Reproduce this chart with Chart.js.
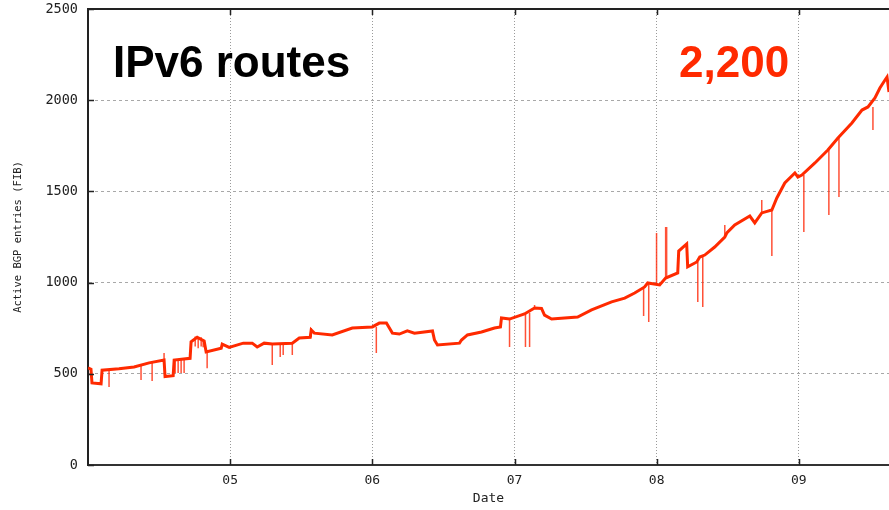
<!DOCTYPE html>
<html>
<head>
<meta charset="utf-8">
<script src="https://cdn.jsdelivr.net/npm/chart.js@4/dist/chart.umd.min.js"></script>
<style>
  html, body { margin: 0; padding: 0; background: #fff; }
  #wrap { width: 889px; height: 510px; position: relative; }
</style>
</head>
<body>
<div id="wrap"><canvas id="bgpChart"></canvas></div>
<script>
// Active IPv6 BGP entries (decimal year, routes)
const years = [2004.000, 2004.021, 2004.028, 2004.092, 2004.099, 2004.218, 2004.324, 2004.430, 2004.535, 2004.542,
  2004.599, 2004.606, 2004.718, 2004.725, 2004.768, 2004.817, 2004.831, 2004.937, 2004.944, 2004.993,
  2005.092, 2005.155, 2005.190, 2005.239, 2005.296, 2005.437, 2005.486, 2005.563, 2005.570, 2005.592,
  2005.718, 2005.859, 2006.000, 2006.049, 2006.099, 2006.141, 2006.190, 2006.246, 2006.296, 2006.423,
  2006.437, 2006.458, 2006.613, 2006.627, 2006.669, 2006.768, 2006.859, 2006.901, 2006.908, 2006.965,
  2007.070, 2007.141, 2007.190, 2007.211, 2007.261, 2007.352, 2007.444, 2007.542, 2007.683, 2007.775,
  2007.845, 2007.915, 2007.937, 2008.021, 2008.063, 2008.148, 2008.155, 2008.211, 2008.218, 2008.282,
  2008.303, 2008.338, 2008.408, 2008.479, 2008.493, 2008.549, 2008.655, 2008.690, 2008.739, 2008.810,
  2008.845, 2008.901, 2008.972, 2008.993, 2009.021, 2009.113, 2009.204, 2009.275, 2009.373, 2009.444,
  2009.486, 2009.535, 2009.570, 2009.606, 2009.620, 2009.634];
const routes = [532, 525, 450, 445, 520, 528, 537, 560, 575, 485,
  490, 575, 585, 675, 700, 680, 620, 640, 663, 645,
  668, 668, 647, 668, 663, 668, 696, 700, 740, 723,
  713, 751, 757, 778, 778, 723, 718, 735, 723, 735,
  685, 658, 668, 685, 713, 729, 751, 757, 806, 800,
  828, 861, 858, 822, 800, 806, 811, 850, 894, 915,
  943, 976, 998, 987, 1025, 1053, 1173, 1212, 1086, 1113,
  1140, 1151, 1195, 1250, 1272, 1316, 1365, 1327, 1382, 1398,
  1464, 1546, 1601, 1579, 1590, 1656, 1727, 1793, 1875, 1946,
  1963, 2012, 2067, 2111, 2127, 2045];

// short-lived spikes (year, value before, value reached)
const spikeYears = [2004.148, 2004.373, 2004.451, 2004.535, 2004.613, 2004.634, 2004.655, 2004.676, 2004.754, 2004.775,
  2004.796, 2004.810, 2004.838, 2005.296, 2005.352, 2005.373, 2005.437, 2005.570, 2006.028, 2006.965,
  2007.077, 2007.106, 2007.141, 2007.908, 2007.944, 2007.999, 2008.063, 2008.070, 2008.289, 2008.324,
  2008.479, 2008.739, 2008.810, 2009.035, 2009.211, 2009.282, 2009.521];
const spikeFrom = [520, 545, 560, 575, 575, 578, 580, 582, 650, 640,
  650, 645, 620, 663, 665, 665, 668, 700, 757, 800,
  828, 835, 861, 976, 998, 990, 1025, 1025, 1113, 1140,
  1250, 1382, 1398, 1590, 1727, 1793, 1963];
const spikeTo = [428, 466, 460, 614, 505, 505, 505, 505, 705, 700,
  700, 690, 530, 548, 592, 603, 603, 751, 614, 647,
  647, 647, 877, 817, 784, 1272, 1305, 1305, 894, 866,
  1316, 1453, 1146, 1277, 1371, 1469, 1837];

const xTickYears = [2005, 2006, 2007, 2008, 2009];
const xTickLabels = ['05', '06', '07', '08', '09'];
const yTicks = [0, 500, 1000, 1500, 2000, 2500];

const lineRed = '#ff2a00';

const mainPoints = years.map((yr, i) => ({ x: yr, y: routes[i] }));
const spikePoints = [];
spikeYears.forEach((yr, i) => {
  spikePoints.push({ x: yr, y: spikeFrom[i] });
  spikePoints.push({ x: yr, y: spikeTo[i] });
  spikePoints.push({ x: yr, y: null });
});

Chart.defaults.font.family = 'DejaVu Sans Mono';
Chart.defaults.color = '#222';

// frame top line, inward tick marks and the two big labels
const decorPlugin = {
  id: 'decor',
  afterDraw(chart) {
    const { ctx, chartArea: a, scales } = chart;
    ctx.save();
    ctx.strokeStyle = '#222';
    ctx.lineWidth = 2;
    ctx.beginPath();
    ctx.moveTo(a.left, a.top);
    ctx.lineTo(a.right, a.top);
    ctx.stroke();

    ctx.lineWidth = 1.5;
    ctx.beginPath();
    yTicks.forEach(v => {
      const py = Math.round(scales.y.getPixelForValue(v)) + 0.5;
      ctx.moveTo(a.left, py);
      ctx.lineTo(a.left + 6, py);
    });
    xTickYears.forEach(v => {
      const px = Math.round(scales.x.getPixelForValue(v)) + 0.5;
      ctx.moveTo(px, a.bottom);
      ctx.lineTo(px, a.bottom - 6);
      ctx.moveTo(px, a.top);
      ctx.lineTo(px, a.top + 6);
    });
    ctx.stroke();

    ctx.textBaseline = 'alphabetic';
    ctx.font = 'bold 44px "Liberation Sans", Arial, sans-serif';
    ctx.fillStyle = '#000';
    ctx.textAlign = 'left';
    ctx.fillText('IPv6 routes', 113, 77);
    ctx.fillStyle = lineRed;
    ctx.fillText('2,200', 679, 77);
    ctx.restore();
  }
};

const ctx = document.getElementById('bgpChart');
new Chart(ctx, {
  type: 'line',
  data: {
    datasets: [{
      label: 'Active BGP entries',
      data: mainPoints,
      borderColor: lineRed,
      borderWidth: 3,
      pointRadius: 0,
      tension: 0,
      order: 0
    }, {
      label: 'spikes',
      data: spikePoints,
      borderColor: 'rgba(255, 50, 20, 0.85)',
      borderWidth: 1.5,
      pointRadius: 0,
      spanGaps: false,
      order: 1
    }]
  },
  options: {
    responsive: true,
    maintainAspectRatio: false,
    animation: false,
    layout: { padding: { top: 9, right: 0, left: 0, bottom: 0 } },
    plugins: {
      legend: { display: false },
      tooltip: { enabled: false }
    },
    scales: {
      x: {
        type: 'linear',
        min: 2004,
        max: 2009.634,
        afterBuildTicks: scale => { scale.ticks = xTickYears.map(v => ({ value: v })); },
        afterFit: scale => {
          scale.height = 45;
          scale.paddingLeft = 0;
          scale.paddingRight = 0;
        },
        ticks: {
          callback: (val, i) => xTickLabels[i],
          font: { size: 13 },
          color: '#222',
          padding: 8,
          maxRotation: 0
        },
        grid: { color: '#9a9a9a', drawTicks: false, lineWidth: 1 },
        border: { display: true, color: '#333', width: 2, dash: [1, 2] },
        title: {
          display: true,
          text: 'Date',
          font: { size: 13 },
          color: '#222',
          padding: { top: 0, bottom: 4 }
        }
      },
      y: {
        min: 0,
        max: 2500,
        afterFit: scale => {
          scale.width = 88;
          scale.paddingTop = 0;
          scale.paddingBottom = 0;
        },
        ticks: {
          stepSize: 500,
          callback: val => String(val),
          font: { size: 13.5 },
          color: '#222',
          padding: 10
        },
        grid: { color: '#a8a8a8', drawTicks: false, lineWidth: 1 },
        border: { display: true, color: '#222', width: 2, dash: [3, 3] },
        title: {
          display: true,
          text: 'Active BGP entries (FIB)',
          font: { size: 10.5 },
          color: '#222',
          padding: { top: 12, bottom: 0 }
        }
      }
    }
  },
  plugins: [decorPlugin]
});
</script>
</body>
</html>
